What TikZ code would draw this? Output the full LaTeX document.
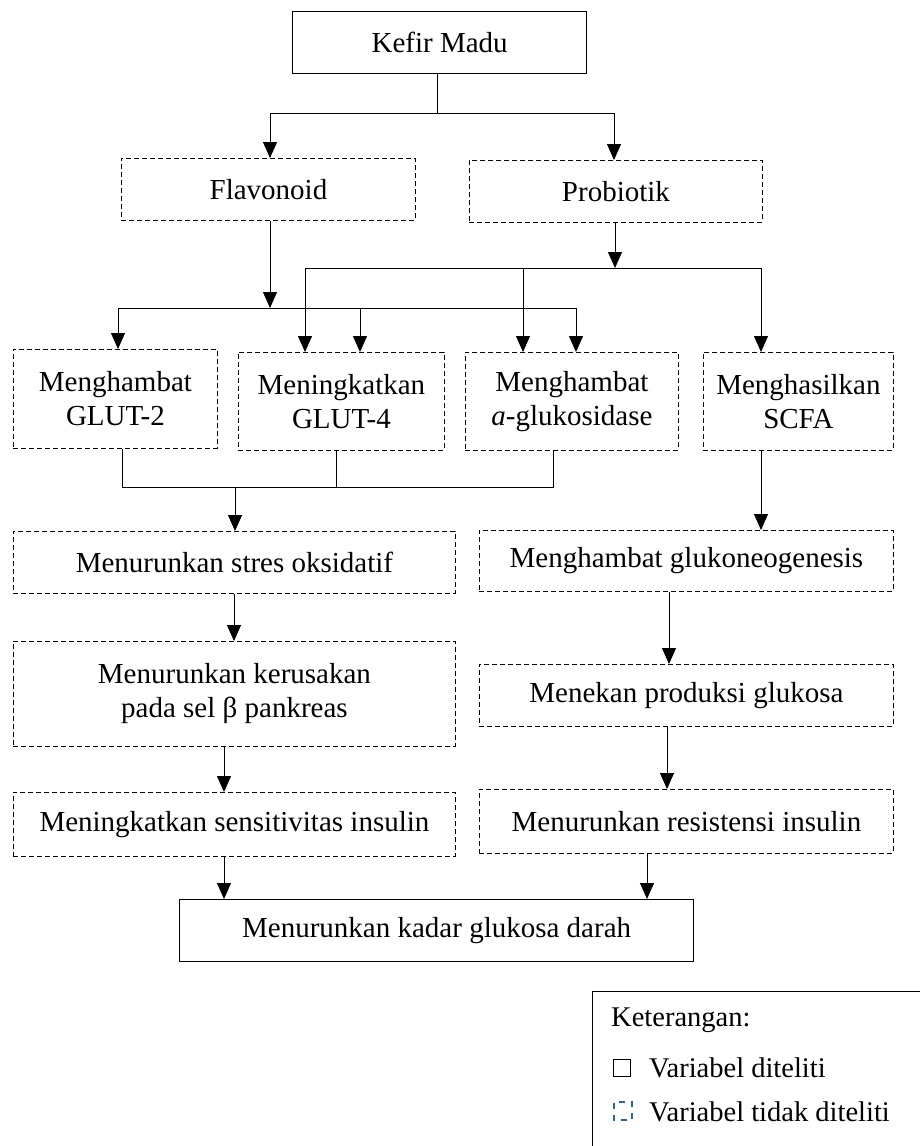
\documentclass[tikz,border=0pt]{standalone}
\usepackage{fontspec}
\setmainfont{Liberation Serif}
\usetikzlibrary{arrows.meta}
\begin{document}
\begin{tikzpicture}[x=1pt,y=-1pt,
  solidbox/.style={draw, line width=1.3pt, inner sep=0pt, align=center, anchor=north west, font=\fontsize{29}{34}\selectfont},
  dashbox/.style={solidbox, line width=0.9pt, dash pattern=on 5pt off 3pt},
  arr/.style={-{Triangle[length=16pt,width=14pt]}, line width=0.9pt},
  ln/.style={line width=0.9pt},
  legtext/.style={anchor=west, inner sep=0pt, font=\fontsize{28.5}{34}\selectfont}]
\useasboundingbox (0,0) rectangle (920,1146);
% boxes
\node[solidbox, minimum width=294pt, minimum height=62pt] (kefir) at (292,11) {Kefir Madu};
\node[dashbox, minimum width=294pt, minimum height=62pt] (flav) at (121,158) {Flavonoid};
\node[dashbox, minimum width=293pt, minimum height=62pt] (prob) at (469,160) {Probiotik};
\node[dashbox, minimum width=204pt, minimum height=99pt] (g2) at (13,349) {Menghambat\\GLUT-2};
\node[dashbox, minimum width=206pt, minimum height=98pt] (g4) at (238,352) {Meningkatkan\\GLUT-4};
\node[dashbox, minimum width=213pt, minimum height=98pt] (gluk) at (465,352) {Menghambat\\{\itshape a}-glukosidase};
\node[dashbox, minimum width=190pt, minimum height=98pt] (scfa) at (703,352) {Menghasilkan\\SCFA};
\node[dashbox, minimum width=442pt, minimum height=62pt] (stres) at (13,531) {Menurunkan stres oksidatif};
\node[dashbox, minimum width=414pt, minimum height=61pt] (neo) at (479,530) {Menghambat glukoneogenesis};
\node[dashbox, minimum width=442pt, minimum height=105pt] (rusak) at (13,641) {Menurunkan kerusakan\\pada sel β pankreas};
\node[dashbox, minimum width=414pt, minimum height=62pt] (tekan) at (479,664) {Menekan produksi glukosa};
\node[dashbox, minimum width=442pt, minimum height=64pt] (sens) at (13,792) {Meningkatkan sensitivitas insulin};
\node[dashbox, minimum width=414pt, minimum height=64pt] (resis) at (479,789) {Menurunkan resistensi insulin};
\node[solidbox, minimum width=514pt, minimum height=62pt] (final) at (179,899) {Menurunkan kadar glukosa darah};
% Kefir split
\coordinate (kj) at (437,113);
\coordinate (kl) at (270,113);
\coordinate (kr) at (614,113);
\draw[ln] (kefir.south -| kj) -- (kj);
\draw[ln] (kl) -- (kr);
\draw[arr] (kl) -- (kl |- flav.north);
\draw[arr] (kr) -- (kr |- prob.north);
% Flavonoid distribution
\coordinate (fj) at (270,308);
\coordinate (f1) at (118,308);
\coordinate (f2) at (360,308);
\coordinate (f3) at (576,308);
\draw[arr] (flav.south -| fj) -- (fj);
\draw[ln] (f1) -- (f3);
\draw[arr] (f1) -- (f1 |- g2.north);
\draw[arr] (f2) -- (f2 |- g4.north);
\draw[arr] (f3) -- (f3 |- gluk.north);
% Probiotik distribution
\coordinate (pj) at (615,268);
\coordinate (p1) at (305,268);
\coordinate (p2) at (523,268);
\coordinate (p3) at (761,268);
\draw[arr] (prob.south -| pj) -- (pj);
\draw[ln] (p1) -- (p3);
\draw[arr] (p1) -- (p1 |- g4.north);
\draw[arr] (p2) -- (p2 |- gluk.north);
\draw[arr] (p3) -- (p3 |- scfa.north);
% merge to stres
\coordinate (m1) at (122,487);
\coordinate (m2) at (336,487);
\coordinate (m3) at (553,487);
\coordinate (mj) at (235,487);
\draw[ln] (g2.south -| m1) -- (m1) -- (m3) -- (gluk.south -| m3);
\draw[ln] (g4.south -| m2) -- (m2);
\draw[arr] (mj) -- (stres.north -| mj);
% right chain
\coordinate (sx) at (761,0);
\draw[arr] (scfa.south -| sx) -- (neo.north -| sx);
\coordinate (nx) at (669,0);
\draw[arr] (neo.south -| nx) -- (tekan.north -| nx);
\coordinate (tx) at (667,0);
\draw[arr] (tekan.south -| tx) -- (resis.north -| tx);
\coordinate (rx) at (647,0);
\draw[arr] (resis.south -| rx) -- (final.north -| rx);
% left chain
\coordinate (lx) at (234,0);
\draw[arr] (stres.south -| lx) -- (rusak.north -| lx);
\coordinate (kx) at (224,0);
\draw[arr] (rusak.south -| kx) -- (sens.north -| kx);
\draw[arr] (sens.south -| kx) -- (final.north -| kx);
% legend
\node[draw, line width=1pt, inner sep=0pt, anchor=north west, minimum width=335pt, minimum height=160pt] (legend) at (592,991) {};
\node[legtext] (lk) at (611,1020) {Keterangan:};
\node[draw, line width=1pt, inner sep=0pt, minimum size=17pt, anchor=north west] (lsq) at (613,1059) {};
\node[legtext] (l1) at (649,1068) {Variabel diteliti};
\draw[line width=1.8pt, color={rgb,255:red,46;green,100;blue,150}, dash pattern=on 6pt off 6pt, dash phase=-1pt] (614,1102) rectangle (632,1120);
\coordinate (licon) at (623,1111);
\node[legtext] (l2) at (649,1112) {Variabel tidak diteliti};
\end{tikzpicture}
\end{document}
